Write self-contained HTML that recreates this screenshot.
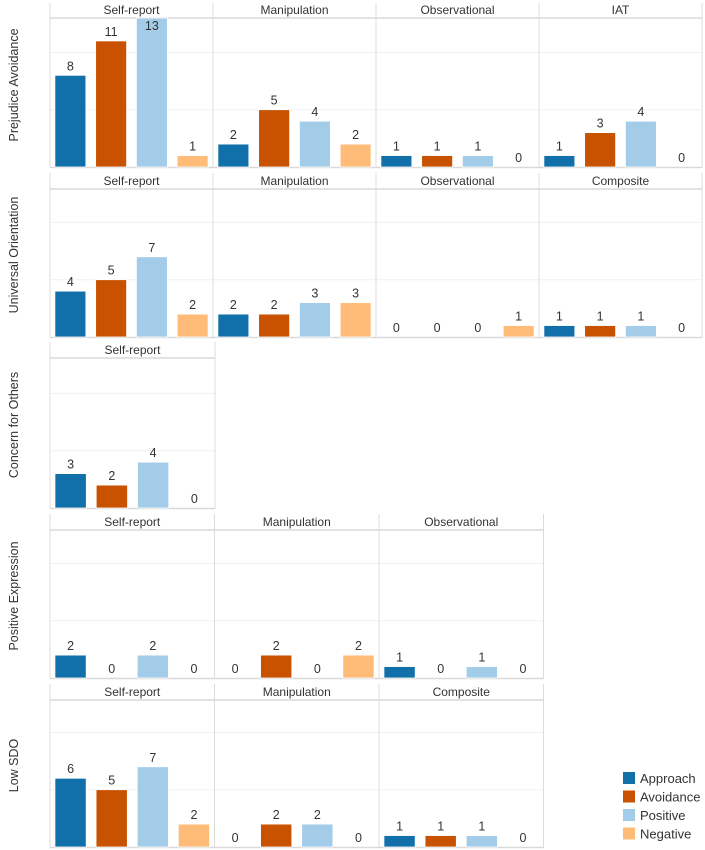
<!DOCTYPE html>
<html><head><meta charset="utf-8"><style>
body{margin:0;background:#fff;}
svg{display:block;font-family:"Liberation Sans",sans-serif;}
</style></head><body>
<svg id="c" width="705" height="850"></svg>
<script>
const series = ["Approach","Avoidance","Positive","Negative"];
const colors = ["#1170aa","#c85200","#a3cce9","#ffbc79"];
const rowLabels = ["Prejudice Avoidance","Universal Orientation","Concern for Others","Positive Expression","Low SDO"];
const rowPanels = [
 ["Self-report","Manipulation","Observational","IAT"],
 ["Self-report","Manipulation","Observational","Composite"],
 ["Self-report"],
 ["Self-report","Manipulation","Observational"],
 ["Self-report","Manipulation","Composite"]];
const rowValues = [
 [[8,11,13,1],[2,5,4,2],[1,1,1,0],[1,3,4,0]],
 [[4,5,7,2],[2,2,3,3],[0,0,0,1],[1,1,1,0]],
 [[3,2,4,0]],
 [[2,0,2,0],[0,2,0,2],[1,0,1,0]],
 [[6,5,7,2],[0,2,2,0],[1,1,1,0]]];
const gridTicks = [5,10];
const yMax = 13;
// layout
const rowTop = [3,173,342,514,684];
const rowHeaderBottom = [18,189,358,530,700];
const rowBase = [167,337,508,678,847];
const panelW = [163,163,165,164.5,164.5];
const x0 = 50;
const NS="http://www.w3.org/2000/svg";
const svg=document.getElementById('c');
function mk(t,a,p){const e=document.createElementNS(NS,t);for(const k in a)e.setAttribute(k,a[k]);(p||svg).appendChild(e);return e;}
const unit = (rowBase[0]-rowHeaderBottom[0])/yMax;
function yScale(v,r){return rowBase[r]-v*unit;}
rowPanels.forEach((panels,r)=>{
  const g=mk('g',{});
  
  
  const cy=(rowTop[r]+rowBase[r])/2;
  const lab=mk('text',{x:12,y:cy+6,'font-size':12.5,fill:'#333','text-anchor':'middle',transform:`rotate(-90 12 ${cy})`},g);
  lab.textContent=rowLabels[r];
  
  
  const W=panelW[r], n=panels.length, right=x0+W*n;
  gridTicks.forEach(t=>{const gl=mk('line',{x1:x0,x2:right,y1:yScale(t,r),y2:yScale(t,r),stroke:'#f0f0f0','stroke-width':1},g);
    });
  mk('line',{x1:x0,x2:right,y1:rowHeaderBottom[r],y2:rowHeaderBottom[r],stroke:'#d9d9d9','stroke-width':1.5},g);
  mk('line',{x1:x0,x2:right,y1:rowBase[r]+0.5,y2:rowBase[r]+0.5,stroke:'#d9d9d9','stroke-width':1.5},g);
  for(let p=0;p<=n;p++){mk('line',{x1:x0+p*W,x2:x0+p*W,y1:rowTop[r],y2:rowBase[r]+1,stroke:'#dcdcdc','stroke-width':1},g);}
  panels.forEach((name,p)=>{
    const px=x0+p*W;
    const h=mk('text',{x:px+W/2,y:rowHeaderBottom[r]-4,'font-size':12,fill:'#333','text-anchor':'middle'},g);
    h.textContent=name;
    
    
    const step=W/4, bw=step*0.76;
    rowValues[r][p].forEach((v,i)=>{
      const bx=px+step*i+(step-bw)/2, y=yScale(v,r);
      if(v>0){const b=mk('rect',{x:bx,y:y,width:bw,height:rowBase[r]-y,fill:colors[i],stroke:'#fff','stroke-width':0.8},g);
        
        }
      const t=mk('text',{x:bx+bw/2,y:Math.max(y-5,rowHeaderBottom[r]+12),'font-size':12.5,fill:'#333','text-anchor':'middle'},g);
      t.textContent=v;
      
      
    });
  });
});
// legend
const lg=mk('g',{});


series.forEach((s,i)=>{
  const y=772+i*18.5;
  const r=mk('rect',{x:623,y:y,width:12,height:12,fill:colors[i]},lg);
  
  
  const t=mk('text',{x:640,y:y+11,'font-size':13,fill:'#333'},lg);
  t.textContent=s;
  
  
});
</script>
</body></html>
